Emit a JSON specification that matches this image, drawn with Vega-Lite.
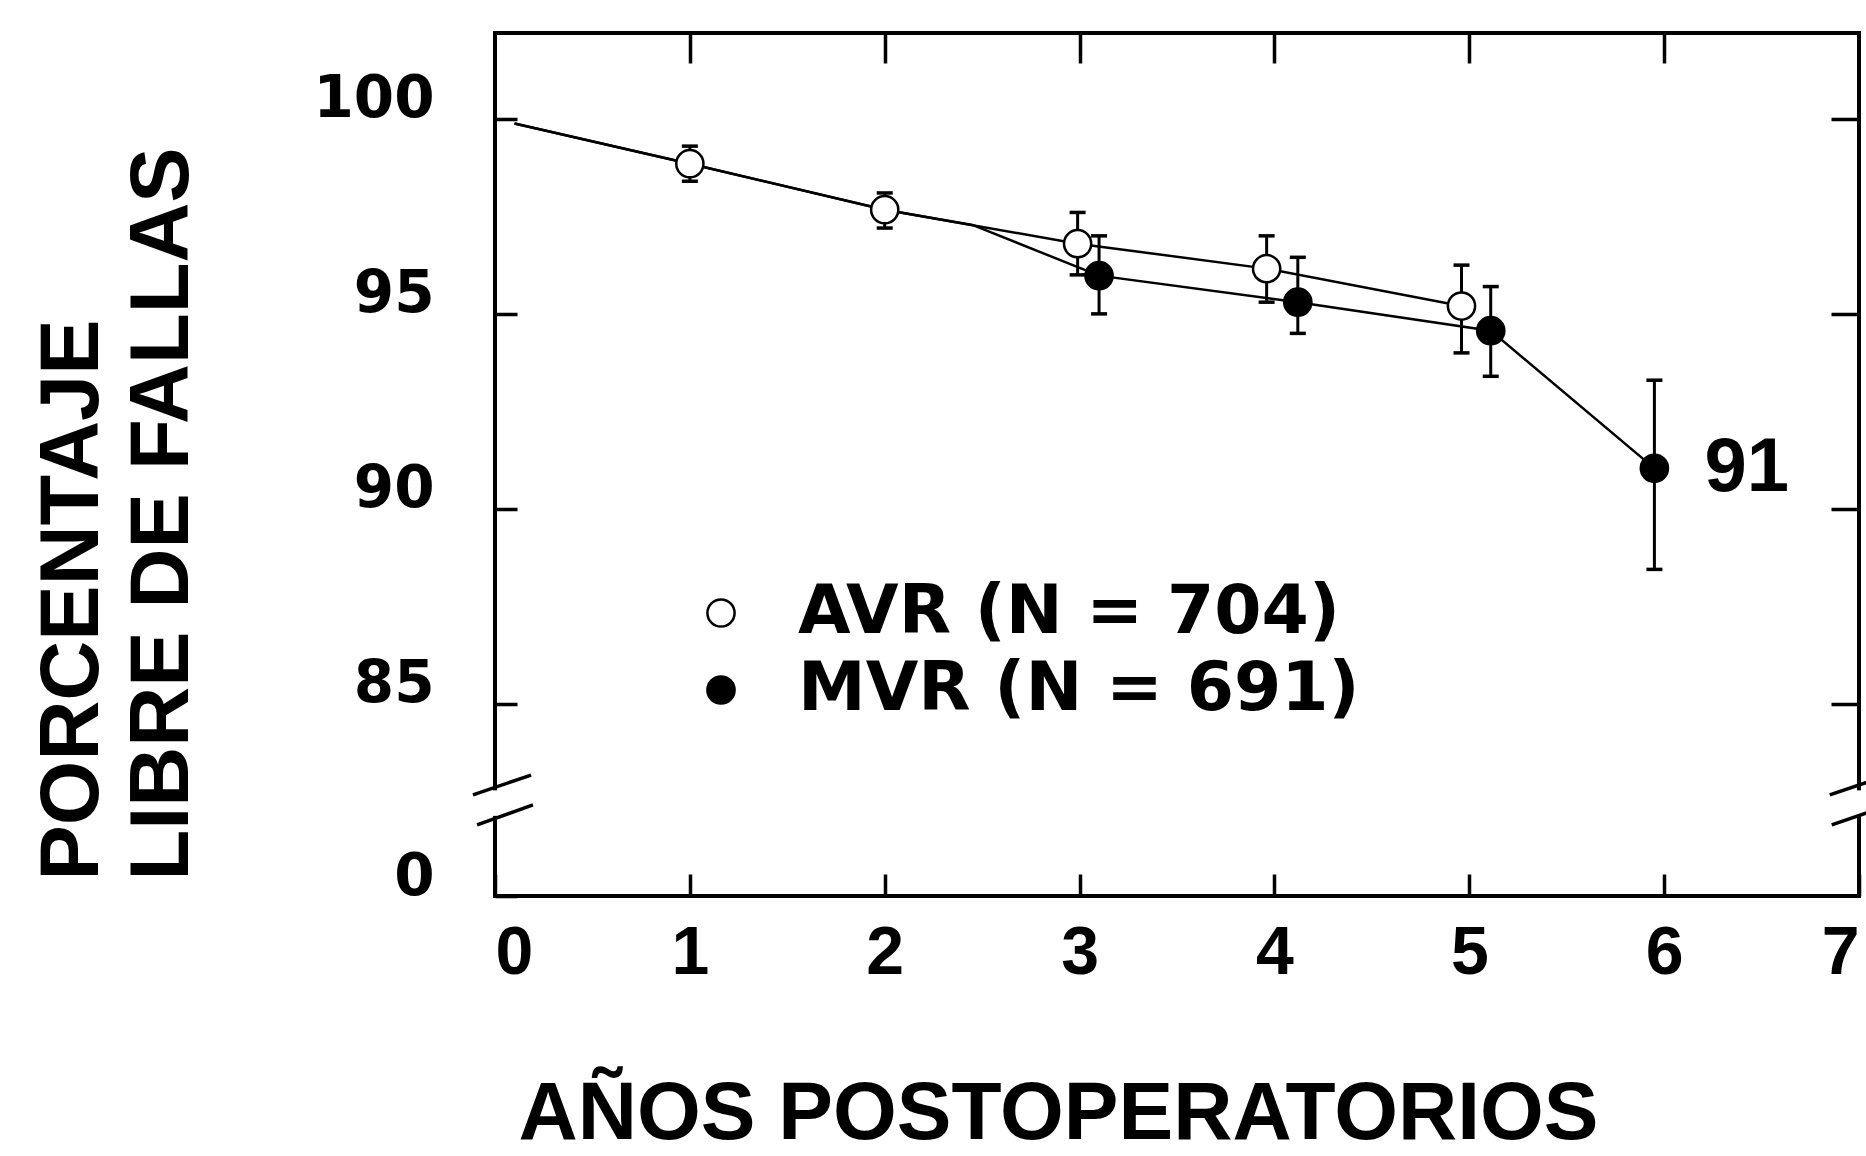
{
  "$schema": "https://vega.github.io/schema/vega-lite/v6.json",
  "width": 1364,
  "height": 863,
  "autosize": "none",
  "padding": {"left": 495, "top": 33, "right": 7, "bottom": 260},
  "background": "white",
  "config": {"view": {"stroke": "black", "strokeWidth": 4}, "font": "Liberation Sans"},
  "datasets": {
    "pts": [
      {"series": "AVR", "x": 1, "y": 98.85, "lo": 98.4, "hi": 99.3},
      {"series": "AVR", "x": 2, "y": 97.67, "lo": 97.2, "hi": 98.1},
      {"series": "AVR", "x": 2.99, "y": 96.8, "lo": 96.0, "hi": 97.6},
      {"series": "AVR", "x": 3.96, "y": 96.16, "lo": 95.3, "hi": 97.0},
      {"series": "AVR", "x": 4.96, "y": 95.2, "lo": 94.0, "hi": 96.25},
      {"series": "MVR", "x": 3.1, "y": 95.98, "lo": 95.0, "hi": 97.0},
      {"series": "MVR", "x": 4.12, "y": 95.3, "lo": 94.5, "hi": 96.45},
      {"series": "MVR", "x": 5.11, "y": 94.57, "lo": 93.4, "hi": 95.7},
      {"series": "MVR", "x": 5.95, "y": 91.04, "lo": 88.45, "hi": 93.3}
    ],
    "lines": [
      {"series": "AVR", "x": 0.1, "y": 99.88},
      {"series": "AVR", "x": 1, "y": 98.85},
      {"series": "AVR", "x": 2, "y": 97.67},
      {"series": "AVR", "x": 2.99, "y": 96.8},
      {"series": "AVR", "x": 3.96, "y": 96.16},
      {"series": "AVR", "x": 4.96, "y": 95.2},
      {"series": "MVR", "x": 0.1, "y": 99.88},
      {"series": "MVR", "x": 1, "y": 98.85},
      {"series": "MVR", "x": 2, "y": 97.67},
      {"series": "MVR", "x": 2.45, "y": 97.28},
      {"series": "MVR", "x": 3.1, "y": 95.98},
      {"series": "MVR", "x": 4.12, "y": 95.3},
      {"series": "MVR", "x": 5.11, "y": 94.57},
      {"series": "MVR", "x": 5.95, "y": 91.04}
    ],
    "breaks": [
      {"x": -0.113, "x2": 0.185, "y": 55.5, "y2": 66.4},
      {"x": -0.092, "x2": 0.195, "y": 39.0, "y2": 50.0},
      {"x": 6.85, "x2": 7.15, "y": 55.5, "y2": 66.4},
      {"x": 6.86, "x2": 7.16, "y": 39.0, "y2": 50.0}
    ],
    "gaps": [
      {"x": -0.04, "x2": 0.04, "y": 44, "y2": 58},
      {"x": 6.96, "x2": 7.04, "y": 44, "y2": 58}
    ],
    "labels": [
      {"x": 5.95, "y": 91.04, "text": "91"}
    ]
  },
  "layer": [
    {
      "layer": [
        {
          "data": {"name": "gaps"},
          "mark": {"type": "rect", "fill": "white"},
          "encoding": {
            "x": {"field": "x", "type": "quantitative", "scale": {"domain": [0, 7], "nice": false, "zero": false},
              "axis": {
                "title": "AÑOS POSTOPERATORIOS", "values": [0, 1, 2, 3, 4, 5, 6, 7], "format": "d",
                "domain": false, "grid": false, "tickSize": -22, "tickWidth": 3.5, "tickColor": "black",
                "labelFont": "Liberation Sans", "labelFontWeight": "bold", "labelFontSize": 68, "labelColor": "black",
                "labelPadding": 45, "labelFlush": true, "labelOverlap": false,
                "titleFont": "Liberation Sans", "titleFontWeight": "bold", "titleFontSize": 82, "titleColor": "black",
                "titleX": 563, "titleY": 259, "titleAlign": "center", "titleBaseline": "bottom"
              }},
            "x2": {"field": "x2"},
            "y": {"field": "y", "type": "quantitative", "scale": {"domain": [0, 84, 102.2], "range": [863, 710, 0], "nice": false, "zero": false},
              "axis": {
                "title": ["PORCENTAJE", "LIBRE DE FALLAS"], "values": [0, 85, 90, 95, 100],
                "domain": false, "grid": false, "tickSize": -22, "tickWidth": 3.5, "tickColor": "black",
                "labelFont": "DejaVu Sans", "labelFontWeight": "bold", "labelFontSize": 58, "labelColor": "black",
                "labelPadding": 83, "labelOffset": -19, "labelOverlap": false, "labelFlush": false,
                "titleFont": "Liberation Sans", "titleFontWeight": "bold", "titleFontSize": 83, "titleColor": "black",
                "titleAngle": -90, "titleX": -398, "titleY": 847, "titleAlign": "left", "titleBaseline": "alphabetic",
                "titleLineHeight": 90
              }},
            "y2": {"field": "y2"}
          }
        },
        {
          "data": {"name": "breaks"},
          "mark": {"type": "rule", "color": "black", "strokeWidth": 3.5},
          "encoding": {
            "x": {"field": "x", "type": "quantitative"},
            "x2": {"field": "x2"},
            "y": {"field": "y", "type": "quantitative"},
            "y2": {"field": "y2"}
          }
        },
        {
          "data": {"name": "lines"},
          "mark": {"type": "line", "color": "black", "strokeWidth": 2.5},
          "encoding": {
            "x": {"field": "x", "type": "quantitative"},
            "y": {"field": "y", "type": "quantitative"},
            "detail": {"field": "series"}
          }
        },
        {
          "data": {"name": "pts"},
          "mark": {"type": "rule", "color": "black", "strokeWidth": 3},
          "encoding": {
            "x": {"field": "x", "type": "quantitative"},
            "y": {"field": "lo", "type": "quantitative"},
            "y2": {"field": "hi"}
          }
        },
        {
          "data": {"name": "pts"},
          "mark": {"type": "tick", "orient": "horizontal", "color": "black", "size": 16, "thickness": 3.5, "opacity": 1},
          "encoding": {
            "x": {"field": "x", "type": "quantitative"},
            "y": {"field": "lo", "type": "quantitative"}
          }
        },
        {
          "data": {"name": "pts"},
          "mark": {"type": "tick", "orient": "horizontal", "color": "black", "size": 16, "thickness": 3.5, "opacity": 1},
          "encoding": {
            "x": {"field": "x", "type": "quantitative"},
            "y": {"field": "hi", "type": "quantitative"}
          }
        },
        {
          "data": {"name": "pts"},
          "mark": {"type": "point", "shape": "circle", "filled": true, "stroke": "black", "strokeWidth": 2.5, "size": 740, "opacity": 1},
          "encoding": {
            "x": {"field": "x", "type": "quantitative"},
            "y": {"field": "y", "type": "quantitative"},
            "fill": {
              "field": "series", "type": "nominal",
              "scale": {"domain": ["AVR", "MVR"], "range": ["white", "black"]},
              "legend": {
                "title": null, "orient": "none", "legendX": 192, "legendY": 546, "padding": 0,
                "symbolType": "circle", "symbolSize": 740, "symbolStrokeColor": "black", "symbolStrokeWidth": 2.5,
                "labelFont": "DejaVu Sans", "labelFontWeight": "bold", "labelFontSize": 68, "labelColor": "black",
                "labelOffset": 43, "rowPadding": 9, "labelLimit": 0,
                "labelExpr": "datum.label == 'AVR' ? 'AVR (N = 704)' : 'MVR (N = 691)'"
              }
            }
          }
        },
        {
          "data": {"name": "labels"},
          "mark": {"type": "text", "align": "left", "baseline": "middle", "dx": 50, "font": "Liberation Sans", "fontWeight": "bold", "fontSize": 76, "color": "black"},
          "encoding": {
            "x": {"field": "x", "type": "quantitative"},
            "y": {"field": "y", "type": "quantitative"},
            "text": {"field": "text"}
          }
        }
      ]
    },
    {
      "data": {"name": "pts"},
      "mark": {"type": "point", "opacity": 0},
      "encoding": {
        "x": {"field": "x", "type": "quantitative", "scale": {"domain": [0, 7], "nice": false, "zero": false},
          "axis": {"orient": "top", "values": [1, 2, 3, 4, 5, 6], "labels": false, "title": null, "domain": false, "grid": false,
            "tickSize": -30, "tickWidth": 3.5, "tickColor": "black"}},
        "y": {"field": "y", "type": "quantitative", "scale": {"domain": [0, 84, 102.2], "range": [863, 710, 0], "nice": false, "zero": false},
          "axis": {"orient": "right", "values": [85, 90, 95, 100], "labels": false, "title": null, "domain": false, "grid": false,
            "tickSize": -28, "tickWidth": 3.5, "tickColor": "black"}}
      }
    }
  ],
  "resolve": {"axis": {"x": "independent", "y": "independent"}}
}
